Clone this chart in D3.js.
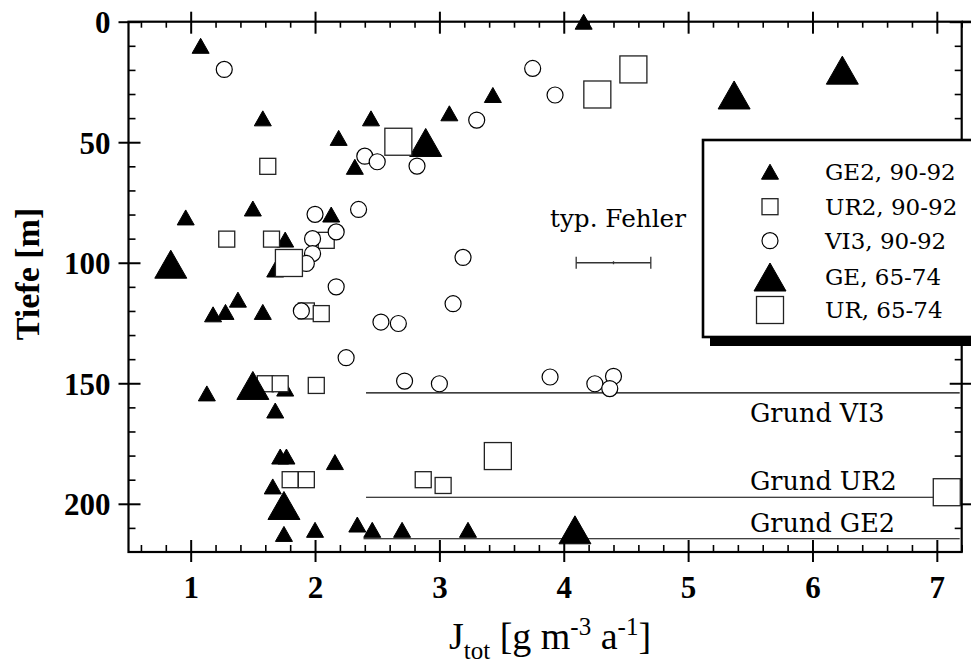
<!DOCTYPE html>
<html><head><meta charset="utf-8">
<script src="https://cdn.jsdelivr.net/npm/d3@7"></script>
<style>
html,body{margin:0;padding:0;background:#fff;}
svg{display:block;}
</style></head>
<body>
<svg id="chart" width="971" height="664"></svg>
<script>
// ---------- DATA ----------
// GE2, 90-92 (small filled triangles)
const ge2X = [1.08,1.58,0.96,1.50,2.13,1.76,1.68,1.38,1.28,1.18,1.58,1.76,1.13,1.68,1.72,1.77,1.66,1.75,2.00,2.16,2.34,2.46,2.70,3.23,4.16,3.43,3.08,2.45,2.19,2.32];
const ge2Y = [10,40.1,81.2,77.5,80,90.4,102.8,115.3,120.4,121.4,120.4,152.2,154.2,161.3,180.4,180.4,192.8,212.5,210.8,182.7,208.6,210.8,210.8,210.8,0,30.4,38,40.1,48.2,60.2];
// UR2, 90-92 (small open squares)
const ur2X = [1.62,1.29,1.65,2.09,1.93,2.05,1.60,1.72,2.01,1.80,1.93,2.87,3.03];
const ur2Y = [60,90.2,90.2,90.7,120,121.1,150.2,150.2,150.9,190,190,190,192.4];
// VI3, 90-92 (open circles)
const vi3X = [1.27,3.75,3.93,3.30,2.40,2.50,2.82,2.35,2.00,2.17,1.98,1.98,1.93,3.19,2.17,3.11,1.89,2.53,2.67,2.25,2.72,3.00,3.89,4.25,4.40,4.37];
const vi3Y = [19.8,19.4,30.4,40.8,55.8,58.1,59.9,77.9,79.9,87.2,90,96.2,100.3,97.8,110,117,120,124.6,125.2,139.4,149.1,150.2,147.4,150.2,147.1,152.2];
// GE, 65-74 (big filled triangles)
const geX = [6.24,5.37,2.89,0.84,1.50,1.75,4.09];
const geY = [20.1,30.4,50.1,100.6,150.9,200.7,210.8];
// UR, 65-74 (big open squares)
const urX = [4.56,4.27,2.67,1.79,3.47,7.08];
const urY = [19.8,30.2,49.8,100.1,180.2,195.2];

// Ground levels
const grundLabels = ["Grund VI3","Grund UR2","Grund GE2"];
const grundDepth = [154,197.3,214.5];
const grundStart = [2.41,2.41,2.39];

// typical error
const errX = 4.4, errDx = 0.3, errY = 100;

const legendLabels = ["GE2, 90-92","UR2, 90-92","VI3, 90-92","GE, 65-74","UR, 65-74"];
const legendKinds  = ["triS","sqS","circ","triB","sqB"];

const xTicks = [1,2,3,4,5,6,7];
const yTicks = [0,50,100,150,200];
const xDomain = [0.5,7.2];
const yDomain = [0,220];

// ---------- LAYOUT ----------
const L = 128.5, R = 961.7, T = 21.7, B = 552;
const svg = d3.select("#chart");
const x = d3.scaleLinear().domain(xDomain).range([L,R]);
const y = d3.scaleLinear().domain(yDomain).range([T,B]);

const xMinor = d3.range(0.6,7.2001,0.2).map(v=>+v.toFixed(1)).filter(v=>Math.abs(v-Math.round(v))>1e-6);
const yMinor = d3.range(10,220,10).filter(v=>v%50!==0);

const tickFont = "'Liberation Serif', 'Times New Roman', serif";
const textFont = "'DejaVu Serif', serif";

function styleAxis(g, w){
  g.select(".domain").remove();
  g.selectAll("line").attr("stroke","#000").attr("stroke-width",w);
}
// left
svg.append("g").attr("transform",`translate(${L},0)`)
  .call(d3.axisLeft(y).tickValues(yTicks).tickSize(10).tickPadding(8).tickFormat(d3.format("d")))
  .call(g=>{styleAxis(g,2);
    g.selectAll("text").attr("dy",0).attr("y",11).attr("font-family",tickFont).attr("font-weight","bold").attr("font-size",31).attr("fill","#000");});
svg.append("g").attr("transform",`translate(${L},0)`)
  .call(d3.axisRight(y).tickValues(yTicks).tickSize(12).tickFormat(""))
  .call(g=>styleAxis(g,2));
svg.append("g").attr("transform",`translate(${L},0)`)
  .call(d3.axisRight(y).tickValues(yMinor).tickSize(7).tickFormat(""))
  .call(g=>styleAxis(g,1.6));
// right
svg.append("g").attr("transform",`translate(${R},0)`)
  .call(d3.axisRight(y).tickValues(yTicks).tickSize(10).tickFormat(""))
  .call(g=>styleAxis(g,2));
svg.append("g").attr("transform",`translate(${R},0)`)
  .call(d3.axisLeft(y).tickValues(yTicks).tickSize(12).tickFormat(""))
  .call(g=>styleAxis(g,2));
svg.append("g").attr("transform",`translate(${R},0)`)
  .call(d3.axisLeft(y).tickValues(yMinor).tickSize(7).tickFormat(""))
  .call(g=>styleAxis(g,1.6));
// bottom
svg.append("g").attr("transform",`translate(0,${B})`)
  .call(d3.axisBottom(x).tickValues(xTicks).tickSize(10).tickFormat(d3.format("d")))
  .call(g=>{styleAxis(g,2);
    g.selectAll("text").attr("dy",0).attr("y",46).attr("font-family",tickFont).attr("font-weight","bold").attr("font-size",31).attr("fill","#000");});
svg.append("g").attr("transform",`translate(0,${B})`)
  .call(d3.axisTop(x).tickValues(xTicks).tickSize(12).tickFormat(""))
  .call(g=>styleAxis(g,2));
svg.append("g").attr("transform",`translate(0,${B})`)
  .call(d3.axisTop(x).tickValues(xMinor).tickSize(7).tickFormat(""))
  .call(g=>styleAxis(g,1.6));
// top
svg.append("g").attr("transform",`translate(0,${T})`)
  .call(d3.axisTop(x).tickValues(xTicks).tickSize(10).tickFormat(""))
  .call(g=>styleAxis(g,2));
svg.append("g").attr("transform",`translate(0,${T})`)
  .call(d3.axisBottom(x).tickValues(xTicks).tickSize(12).tickFormat(""))
  .call(g=>styleAxis(g,2));
svg.append("g").attr("transform",`translate(0,${T})`)
  .call(d3.axisBottom(x).tickValues(xMinor).tickSize(6).tickFormat(""))
  .call(g=>styleAxis(g,1.6));

// frame
svg.append("rect").attr("x",L).attr("y",T).attr("width",R-L).attr("height",B-T)
  .attr("fill","none").attr("stroke","#000").attr("stroke-width",2.2);
svg.append("line").attr("x1",R).attr("x2",971).attr("y1",T).attr("y2",T).attr("stroke","#000").attr("stroke-width",2.2);

// axis titles
svg.append("text").attr("transform","translate(39,274) rotate(-90)")
  .attr("text-anchor","middle").attr("font-family",tickFont).attr("font-weight","bold")
  .attr("font-size",34).attr("fill","#000").text("Tiefe [m]");
const xt = svg.append("text").attr("x",550).attr("y",649).attr("text-anchor","middle")
  .attr("font-family",tickFont).attr("font-size",38).attr("fill","#000");
xt.append("tspan").text("J");
xt.append("tspan").attr("font-size",25).attr("dy",10).text("tot");
xt.append("tspan").attr("dy",-10).text(" [g m");
xt.append("tspan").attr("font-size",25).attr("dy",-14).text("-3");
xt.append("tspan").attr("dy",14).text(" a");
xt.append("tspan").attr("font-size",25).attr("dy",-14).text("-1");
xt.append("tspan").attr("dy",14).text("]");

// ground lines
const gl = svg.append("g");
grundLabels.forEach((lab,i)=>{
  gl.append("line").attr("x1",x(grundStart[i])).attr("x2",x(xDomain[1])-2)
    .attr("y1",y(grundDepth[i])).attr("y2",y(grundDepth[i]))
    .attr("stroke","#000").attr("stroke-width",1.1);
});
const grundTextY = [421.7,490,531.7];
grundLabels.forEach((lab,i)=>{
  gl.append("text").attr("x",750).attr("y",grundTextY[i]).attr("font-family",textFont)
    .attr("font-size",25.5).attr("fill","#000").text(lab);
});

// error bar
const eb = svg.append("g").attr("stroke","#333").attr("stroke-width",1.3);
eb.append("line").attr("x1",x(errX-errDx)).attr("x2",x(errX+errDx)).attr("y1",y(errY)).attr("y2",y(errY));
eb.append("line").attr("x1",x(errX-errDx)).attr("x2",x(errX-errDx)).attr("y1",y(errY)-6).attr("y2",y(errY)+6);
eb.append("line").attr("x1",x(errX+errDx)).attr("x2",x(errX+errDx)).attr("y1",y(errY)-6).attr("y2",y(errY)+6);
eb.append("line").attr("x1",x(errX)).attr("x2",x(errX)).attr("y1",y(errY)-1.5).attr("y2",y(errY)+1.5);
svg.append("text").attr("x",550).attr("y",227).attr("font-family",textFont).attr("font-size",24.7)
  .attr("fill","#000").text("typ. Fehler");

// symbols
const sizes = {triS:[17,15], triB:[32,28], sqS:16, sqB:27, circ:8};
function drawSym(g, kind, cx, cy){
  if(kind==="triS"||kind==="triB"){
    const [w,h]=sizes[kind];
    g.append("path").attr("d",`M${cx-w/2},${cy+h/2}L${cx+w/2},${cy+h/2}L${cx},${cy-h/2}Z`)
      .attr("fill","#000").attr("stroke","#000").attr("stroke-width",1);
  } else if(kind==="sqS"||kind==="sqB"){
    const s=sizes[kind];
    g.append("rect").attr("x",cx-s/2).attr("y",cy-s/2).attr("width",s).attr("height",s)
      .attr("fill","#fff").attr("stroke","#222").attr("stroke-width",1.3);
  } else {
    g.append("circle").attr("cx",cx).attr("cy",cy).attr("r",sizes.circ)
      .attr("fill","#fff").attr("stroke","#000").attr("stroke-width",1.2);
  }
}
const pts = svg.append("g");
const series = [[ge2X,ge2Y,"triS"],[ur2X,ur2Y,"sqS"],[vi3X,vi3Y,"circ"],[geX,geY,"triB"],[urX,urY,"sqB"]];
series.forEach(([xs,ys,k])=>{ xs.forEach((v,i)=>drawSym(pts,k,x(v),y(ys[i]))); });

// legend
const lg = svg.append("g");
lg.append("rect").attr("x",710).attr("y",147).attr("width",300).attr("height",199).attr("fill","#000");
lg.append("rect").attr("x",703).attr("y",140).attr("width",300).attr("height",197)
  .attr("fill","#fff").attr("stroke","#000").attr("stroke-width",2.6);
const legRowY = [171.7,206.7,240.7,277,310];
legendLabels.forEach((lab,i)=>{
  drawSym(lg, legendKinds[i], 770, legRowY[i]);
  lg.append("text").attr("x",825).attr("y",legRowY[i]+8.3).attr("font-family",textFont)
    .attr("font-size",23).attr("fill","#000").text(lab);
});
</script>
</body></html>
